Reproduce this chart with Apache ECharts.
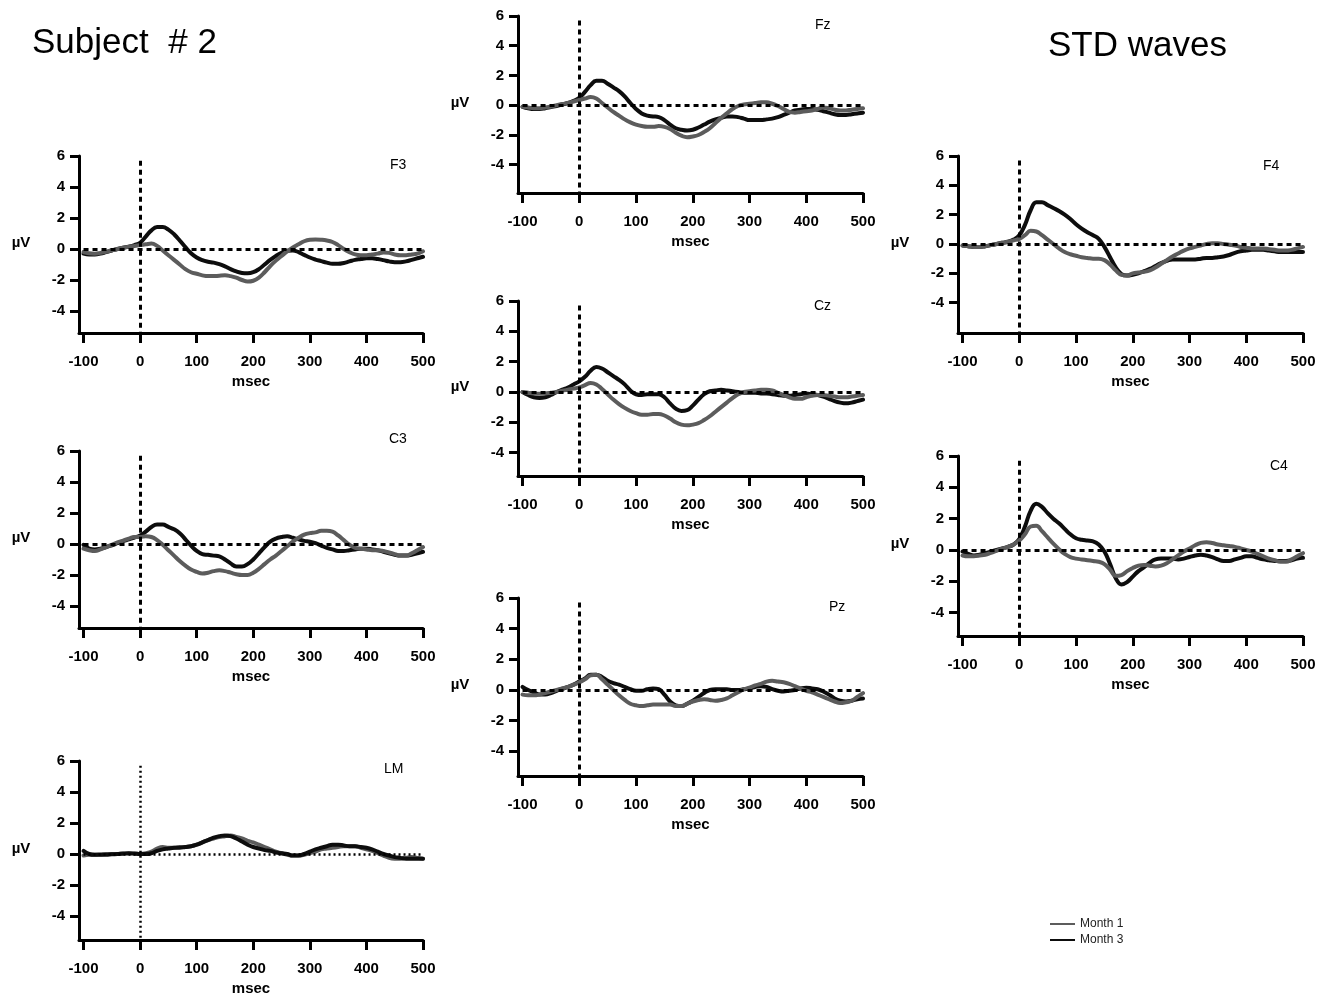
<!DOCTYPE html>
<html><head><meta charset="utf-8">
<script src="https://cdn.jsdelivr.net/npm/echarts@6/dist/echarts.min.js"></script>
<style>html,body{margin:0;padding:0;background:#fff}#c{width:1329px;height:996px}</style>
</head><body><div id="c"></div>
<script>
// ---------------- DATA ----------------
const times = [-100,-90,-80,-70,-60,-50,-40,-30,-20,-10,
  0,10,20,30,40,50,60,70,80,90,
  100,110,120,130,140,150,160,170,180,190,
  200,210,220,230,240,250,260,270,280,290,
  300,310,320,330,340,350,360,370,380,390,
  400,410,420,430,440,450,460,470,480,490,500];
const xTicks = [-100,0,100,200,300,400,500];
const yTicks = [-4,-2,0,2,4,6];
const seriesNames = ['Month 1','Month 3'];
const channels = ['F3','C3','LM','Fz','Cz','Pz','F4','C4'];
const mainTitle = 'Subject  # 2';
const sideTitle = 'STD waves';
const xName = 'msec';
const yName = 'µV';

const F3_month3 = [-0.3,-0.35,-0.35,-0.3,-0.2,-0.1,0,0.08,0.15,0.25,
  0.4,0.8,1.2,1.42,1.42,1.25,0.95,0.55,0.12,-0.28,
  -0.55,-0.72,-0.82,-0.88,-0.98,-1.12,-1.3,-1.45,-1.55,-1.57,
  -1.5,-1.3,-1.0,-0.7,-0.45,-0.25,-0.12,-0.1,-0.2,-0.38,
  -0.55,-0.68,-0.78,-0.88,-0.95,-0.95,-0.9,-0.8,-0.7,-0.65,
  -0.6,-0.6,-0.65,-0.72,-0.8,-0.85,-0.85,-0.8,-0.7,-0.6,-0.5];
const F3_month1 = [-0.2,-0.28,-0.3,-0.25,-0.18,-0.08,0,0.08,0.15,0.2,
  0.25,0.3,0.35,0.2,-0.1,-0.4,-0.7,-1.0,-1.3,-1.5,
  -1.6,-1.7,-1.75,-1.75,-1.72,-1.7,-1.75,-1.85,-2.0,-2.1,
  -2.05,-1.85,-1.5,-1.1,-0.75,-0.45,-0.15,0.1,0.3,0.5,
  0.6,0.62,0.6,0.55,0.45,0.25,0,-0.2,-0.35,-0.4,
  -0.4,-0.35,-0.3,-0.22,-0.25,-0.35,-0.4,-0.4,-0.35,-0.3,-0.15];

const C3_month3 = [-0.05,-0.3,-0.35,-0.3,-0.2,-0.08,0.05,0.18,0.3,0.42,
  0.55,0.8,1.1,1.25,1.25,1.1,0.95,0.7,0.3,-0.1,
  -0.45,-0.65,-0.7,-0.75,-0.8,-1.0,-1.25,-1.45,-1.45,-1.3,
  -1.0,-0.6,-0.2,0.15,0.35,0.45,0.5,0.4,0.3,0.2,
  0.15,0.05,-0.1,-0.25,-0.35,-0.45,-0.45,-0.4,-0.35,-0.3,
  -0.3,-0.35,-0.4,-0.5,-0.6,-0.7,-0.75,-0.75,-0.7,-0.6,-0.5];
const C3_month1 = [-0.3,-0.4,-0.45,-0.35,-0.2,-0.05,0.1,0.22,0.35,0.45,
  0.45,0.5,0.45,0.25,-0.05,-0.4,-0.75,-1.1,-1.4,-1.65,
  -1.8,-1.9,-1.85,-1.75,-1.7,-1.75,-1.85,-1.95,-2.0,-2.0,
  -1.85,-1.6,-1.3,-1.0,-0.75,-0.45,-0.15,0.15,0.4,0.6,
  0.7,0.75,0.85,0.85,0.8,0.55,0.25,-0.05,-0.25,-0.3,
  -0.35,-0.4,-0.4,-0.45,-0.55,-0.65,-0.75,-0.75,-0.6,-0.4,-0.2];

const LM_month3 = [0.2,0.0,-0.05,-0.05,-0.05,-0.02,0,0.03,0.05,0.03,
  0,0,0.05,0.2,0.3,0.35,0.4,0.4,0.45,0.5,
  0.6,0.75,0.9,1.05,1.15,1.2,1.15,1.0,0.8,0.6,
  0.45,0.35,0.25,0.2,0.1,0.05,0,-0.1,-0.1,0,
  0.15,0.3,0.4,0.5,0.6,0.6,0.55,0.5,0.5,0.45,
  0.4,0.3,0.15,0,-0.1,-0.2,-0.25,-0.3,-0.3,-0.3,-0.3];
const LM_month1 = [-0.1,-0.05,-0.05,-0.03,0,0,0,0.02,0.03,0.02,
  0,0.05,0.15,0.35,0.45,0.4,0.4,0.45,0.45,0.5,
  0.6,0.75,0.9,1.0,1.1,1.15,1.2,1.1,1.0,0.85,
  0.75,0.6,0.45,0.3,0.15,0.05,-0.05,-0.1,-0.1,-0.05,
  0.05,0.15,0.3,0.35,0.4,0.45,0.5,0.5,0.5,0.4,
  0.3,0.2,0.05,-0.1,-0.25,-0.3,-0.3,-0.25,-0.2,-0.25,-0.3];

const Fz_month3 = [-0.1,-0.2,-0.25,-0.25,-0.2,-0.12,-0.05,0.05,0.15,0.3,
  0.5,0.9,1.35,1.65,1.65,1.45,1.2,0.95,0.6,0.15,
  -0.25,-0.55,-0.7,-0.75,-0.8,-1.0,-1.3,-1.55,-1.65,-1.7,
  -1.65,-1.5,-1.3,-1.1,-0.95,-0.85,-0.75,-0.75,-0.8,-0.9,
  -1.0,-1.0,-1.0,-0.95,-0.9,-0.8,-0.65,-0.5,-0.35,-0.3,
  -0.25,-0.25,-0.3,-0.4,-0.5,-0.6,-0.65,-0.65,-0.6,-0.55,-0.5];
const Fz_month1 = [-0.1,-0.15,-0.2,-0.2,-0.15,-0.08,0,0.08,0.15,0.25,
  0.35,0.45,0.55,0.45,0.15,-0.15,-0.45,-0.7,-0.95,-1.15,
  -1.3,-1.4,-1.45,-1.45,-1.4,-1.45,-1.6,-1.85,-2.05,-2.15,
  -2.1,-2.0,-1.8,-1.55,-1.2,-0.85,-0.55,-0.25,-0.05,0.05,
  0.1,0.15,0.2,0.2,0.1,-0.05,-0.25,-0.45,-0.5,-0.45,
  -0.4,-0.35,-0.25,-0.15,-0.2,-0.3,-0.35,-0.35,-0.3,-0.25,-0.2];

const Cz_month3 = [0,-0.2,-0.35,-0.4,-0.35,-0.2,0,0.15,0.3,0.5,
  0.7,1.0,1.4,1.65,1.55,1.3,1.05,0.8,0.5,0.1,
  -0.15,-0.2,-0.15,-0.15,-0.15,-0.35,-0.75,-1.1,-1.25,-1.2,
  -0.9,-0.5,-0.15,0.05,0.1,0.15,0.1,0.05,0,-0.05,
  -0.05,-0.05,-0.1,-0.1,-0.15,-0.2,-0.25,-0.25,-0.2,-0.15,
  -0.1,-0.15,-0.2,-0.3,-0.45,-0.6,-0.7,-0.75,-0.7,-0.6,-0.5];
const Cz_month1 = [0,-0.05,-0.1,-0.12,-0.1,-0.05,0,0.08,0.15,0.22,
  0.3,0.45,0.6,0.5,0.2,-0.15,-0.5,-0.8,-1.05,-1.25,
  -1.4,-1.5,-1.5,-1.45,-1.45,-1.55,-1.75,-2.0,-2.15,-2.2,
  -2.15,-2.05,-1.85,-1.6,-1.3,-1.0,-0.7,-0.4,-0.15,0,
  0.05,0.1,0.15,0.15,0.1,-0.05,-0.2,-0.35,-0.45,-0.45,
  -0.35,-0.25,-0.2,-0.2,-0.25,-0.3,-0.35,-0.35,-0.3,-0.25,-0.2];

const Pz_month3 = [0.2,0,-0.15,-0.3,-0.3,-0.2,-0.05,0.08,0.2,0.35,
  0.55,0.75,1.0,1.0,0.85,0.6,0.45,0.35,0.2,0.05,
  -0.05,-0.05,0.05,0.1,0.05,-0.3,-0.75,-1.0,-1.05,-0.9,
  -0.7,-0.45,-0.2,0,0.05,0.05,0.05,0,0,0.05,
  0.1,0.2,0.25,0.2,0.05,-0.05,-0.1,-0.05,0,0.1,
  0.15,0.1,0.05,-0.1,-0.3,-0.55,-0.7,-0.75,-0.7,-0.6,-0.55];
const Pz_month1 = [-0.3,-0.35,-0.35,-0.3,-0.2,-0.1,0,0.1,0.2,0.35,
  0.5,0.7,0.95,1.0,0.7,0.35,0,-0.35,-0.65,-0.9,
  -1.0,-1.05,-1.0,-0.95,-0.95,-0.95,-0.95,-1.05,-1.05,-0.9,
  -0.75,-0.65,-0.6,-0.65,-0.7,-0.65,-0.55,-0.35,-0.15,0.05,
  0.15,0.3,0.4,0.55,0.6,0.55,0.5,0.4,0.25,0.1,
  -0.05,-0.15,-0.3,-0.45,-0.6,-0.75,-0.85,-0.8,-0.7,-0.45,-0.2];

const F4_month3 = [-0.1,-0.15,-0.2,-0.2,-0.15,-0.08,0,0.08,0.15,0.3,
  0.6,1.3,2.3,2.85,2.85,2.65,2.45,2.25,2.0,1.7,
  1.35,1.05,0.8,0.6,0.35,-0.2,-0.9,-1.6,-2.05,-2.15,
  -2.1,-2.0,-1.85,-1.7,-1.5,-1.3,-1.15,-1.05,-1.05,-1.05,
  -1.05,-1.05,-1.0,-0.95,-0.95,-0.9,-0.85,-0.75,-0.6,-0.5,
  -0.45,-0.4,-0.4,-0.4,-0.45,-0.5,-0.55,-0.55,-0.55,-0.55,-0.55];
const F4_month1 = [-0.1,-0.15,-0.2,-0.2,-0.15,-0.08,0,0.08,0.15,0.25,
  0.35,0.6,0.9,0.85,0.6,0.3,0,-0.3,-0.55,-0.7,
  -0.8,-0.9,-0.95,-1.0,-1.0,-1.1,-1.4,-1.8,-2.1,-2.15,
  -2.0,-1.95,-1.9,-1.8,-1.6,-1.35,-1.1,-0.85,-0.65,-0.45,
  -0.3,-0.2,-0.1,0,0.05,0.05,0,-0.05,-0.1,-0.2,
  -0.25,-0.3,-0.3,-0.3,-0.35,-0.4,-0.45,-0.45,-0.4,-0.3,-0.2];

const C4_month3 = [-0.1,-0.25,-0.35,-0.3,-0.2,-0.1,0,0.1,0.2,0.35,
  0.7,1.5,2.5,2.95,2.75,2.35,2.0,1.7,1.35,1.0,
  0.75,0.65,0.6,0.55,0.35,-0.1,-0.9,-1.8,-2.2,-2.05,
  -1.7,-1.35,-1.1,-0.8,-0.6,-0.55,-0.55,-0.55,-0.6,-0.55,
  -0.45,-0.35,-0.3,-0.35,-0.45,-0.6,-0.7,-0.7,-0.6,-0.5,
  -0.4,-0.4,-0.5,-0.6,-0.65,-0.7,-0.7,-0.7,-0.65,-0.55,-0.5];
const C4_month1 = [-0.35,-0.4,-0.4,-0.35,-0.3,-0.18,-0.05,0.08,0.2,0.35,
  0.6,1.0,1.5,1.55,1.2,0.8,0.4,0.05,-0.25,-0.45,
  -0.55,-0.6,-0.65,-0.7,-0.75,-0.9,-1.25,-1.65,-1.6,-1.35,
  -1.15,-1.0,-0.95,-1.0,-1.05,-1.0,-0.85,-0.6,-0.35,-0.1,
  0.1,0.3,0.45,0.5,0.45,0.35,0.3,0.25,0.2,0.1,
  0,-0.1,-0.25,-0.4,-0.55,-0.65,-0.75,-0.75,-0.6,-0.4,-0.2];

const channelData = {
  F3:[F3_month1,F3_month3], C3:[C3_month1,C3_month3], LM:[LM_month1,LM_month3],
  Fz:[Fz_month1,Fz_month3], Cz:[Cz_month1,Cz_month3], Pz:[Pz_month1,Pz_month3],
  F4:[F4_month1,F4_month3], C4:[C4_month1,C4_month3]
};

// ---------------- LAYOUT / STYLE ----------------
const FONT = "'Liberation Sans', Arial, Helvetica, sans-serif";
const X_MIN = -108, X_MAX = 500, Y_MAX = 6;
const layout = {
  F3:{left:79, top:156, width:344, height:177, yMin:-5.42, lx:390, ly:165},
  C3:{left:79, top:451, width:344, height:177, yMin:-5.42, lx:389, ly:439},
  LM:{left:79, top:761, width:344, height:179, yMin:-5.55, lx:384, ly:769, dotted:true},
  Fz:{left:518, top:16, width:345, height:177, yMin:-5.90, lx:815, ly:25},
  Cz:{left:518, top:301, width:345, height:175, yMin:-5.54, lx:814, ly:306},
  Pz:{left:518, top:598, width:345, height:178, yMin:-5.61, lx:829, ly:607},
  F4:{left:958, top:156, width:345, height:177, yMin:-6.07, lx:1263, ly:166},
  C4:{left:958, top:456, width:345, height:180, yMin:-5.49, lx:1270, ly:466}
};
const COLORS = {'Month 1':'#5c5c5c', 'Month 3':'#0d0d0d'};

const grids=[], xAxes=[], yAxes=[], series=[], graphics=[];
const axisLineStyle = {color:'#000', width:3};
const labelStyle = {color:'#000', fontWeight:'bold', fontSize:15, fontFamily:FONT};

channels.forEach((ch, i) => {
  const L = layout[ch];
  grids.push({left:L.left, top:L.top, width:L.width, height:L.height,
              containLabel:false, outerBoundsMode:'none'});
  xAxes.push({type:'value', gridIndex:i, min:X_MIN, max:X_MAX,
    axisLine:{show:true, onZero:false, lineStyle:axisLineStyle},
    axisTick:{show:true, length:10, customValues:xTicks, lineStyle:axisLineStyle},
    axisLabel:{show:true, customValues:xTicks, margin:21, ...labelStyle},
    splitLine:{show:false},
    name:xName, nameLocation:'middle', nameGap:41,
    nameTextStyle:{color:'#000', fontWeight:'bold', fontSize:15, fontFamily:FONT}});
  yAxes.push({type:'value', gridIndex:i, min:L.yMin, max:Y_MAX,
    axisLine:{show:true, onZero:false, lineStyle:axisLineStyle},
    axisTick:{show:true, length:9, customValues:yTicks, lineStyle:axisLineStyle},
    axisLabel:{show:true, customValues:yTicks, margin:14, ...labelStyle},
    splitLine:{show:false}});

  // reference lines (stimulus onset and baseline)
  const refType = L.dotted ? [2,3] : [5,4];
  series.push({type:'line', xAxisIndex:i, yAxisIndex:i, data:[], z:1, silent:true,
    markLine:{silent:true, symbol:['none','none'], label:{show:false}, animation:false,
      lineStyle:{color:'#000', width: L.dotted ? 2.5 : 3, type:refType},
      emphasis:{disabled:true},
      data:[
        [{coord:[0,5.7]},{coord:[0,L.yMin]}],
        [{coord:[-100,0]},{coord:[500,0]}]
      ]}});

  const [m1, m3] = channelData[ch];
  const pairs = [['Month 3', m3], ['Month 1', m1]];
  if (L.dotted) pairs.reverse();
  pairs.forEach(([nm, vals], k) => {
    series.push({type:'line', name:nm, xAxisIndex:i, yAxisIndex:i,
      data: times.map((t, j) => [t, vals[j]]),
      showSymbol:false, symbol:'none', smooth:0.45, z:2 + k,
      color:COLORS[nm],
      lineStyle:{color:COLORS[nm], width:4, cap:'round', join:'round'},
      emphasis:{disabled:true}});
  });

  graphics.push({type:'text', x:L.lx, y:L.ly, silent:true,
    style:{text:ch, fill:'#000', fontSize:14, fontFamily:FONT, align:'left', verticalAlign:'middle',
           textAlign:'left', textVerticalAlign:'middle'}});
  graphics.push({type:'text', x:L.left - 58, y:L.top + L.height/2 - 2, silent:true,
    style:{text:yName, fill:'#000', fontSize:15, fontWeight:'bold', fontFamily:FONT,
           align:'center', verticalAlign:'middle', textAlign:'center', textVerticalAlign:'middle'}});
});

graphics.push({type:'text', x:32, y:43, silent:true,
  style:{text:mainTitle, fill:'#000', fontSize:35, fontFamily:FONT, align:'left', verticalAlign:'middle',
         textAlign:'left', textVerticalAlign:'middle'}});
graphics.push({type:'text', x:1048, y:46, silent:true,
  style:{text:sideTitle, fill:'#000', fontSize:35, fontFamily:FONT, align:'left', verticalAlign:'middle',
         textAlign:'left', textVerticalAlign:'middle'}});

const chart = echarts.init(document.getElementById('c'), null, {renderer:'canvas'});
chart.setOption({
  animation:false,
  backgroundColor:'#fff',
  grid:grids, xAxis:xAxes, yAxis:yAxes, series:series,
  legend:{data:seriesNames, orient:'vertical', left:1050, top:918, icon:'rect',
    itemWidth:25, itemHeight:2, itemGap:4, selectedMode:false, padding:[0,0,0,0],
    textStyle:{color:'#222', fontSize:12, fontFamily:FONT}},
  graphic:{elements:graphics}
});
</script>
</body></html>
